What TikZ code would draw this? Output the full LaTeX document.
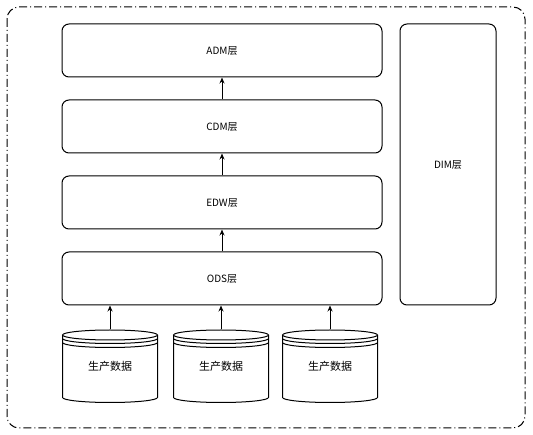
\documentclass[tikz,border=0pt]{standalone}
\usepackage{fontspec}
\setmainfont{Noto Sans CJK SC}
\usetikzlibrary{arrows.meta}

\begin{document}
\begin{tikzpicture}[x=1pt, y=-1pt, line width=1pt,
  layerbox/.style={draw, rounded corners=7pt, minimum width=320pt, minimum height=53pt, inner sep=0pt, font=\fontsize{10}{12}\selectfont},
  dbnode/.style={minimum width=95pt, minimum height=72.5pt, inner sep=0pt, font=\fontsize{11}{13}\selectfont},
  arr/.style={-{Stealth[length=6pt, width=5pt]}}]
  \useasboundingbox (0,0) rectangle (533,435);

  % outer frame
  \draw[rounded corners=12pt, dash pattern=on 8pt off 3pt on 1pt off 3pt] (7,7) rectangle (525,428);

  % layers
  \node[layerbox] (adm) at (222,50.5) {ADM层};
  \node[layerbox] (cdm) at (222,126.5) {CDM层};
  \node[layerbox] (edw) at (222,202.5) {EDW层};
  \node[layerbox] (ods) at (222,278.5) {ODS层};

  % dimension layer
  \node[layerbox, minimum width=96pt, minimum height=281pt] (dim) at (448,164.5) {DIM层};

  % arrows between layers
  \draw[arr] (ods) -- (edw);
  \draw[arr] (edw) -- (cdm);
  \draw[arr] (cdm) -- (adm);

  % source databases
  \foreach \i/\x in {1/110, 2/221, 3/330} {
    \node[dbnode] (db\i) at (\x,366.25) {生产数据};
    \draw (\x,335) ellipse [x radius=47.5pt, y radius=5pt];
    \draw ({\x-47.5},338.5) arc (180:360:47.5pt and 5pt);
    \draw ({\x-47.5},342.5) arc (180:360:47.5pt and 5pt);
    \draw ({\x-47.5},335) -- ({\x-47.5},397.5) arc (180:360:47.5pt and 5pt) -- ({\x+47.5},335);
    \draw[arr] (db\i.north) -- (ods.south -| db\i.north);
  }
\end{tikzpicture}
\end{document}
